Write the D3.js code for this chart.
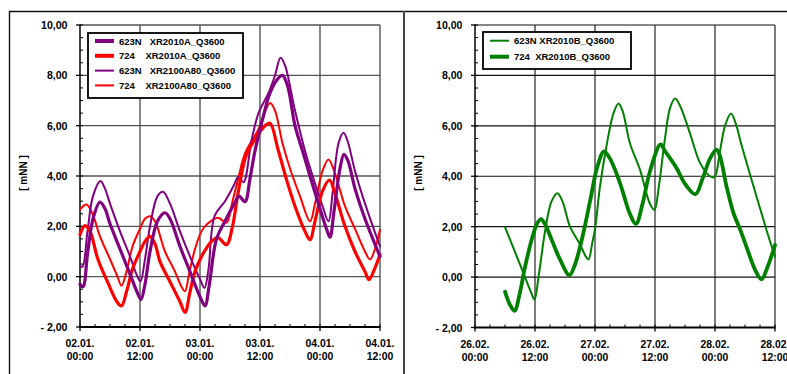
<!DOCTYPE html>
<html>
<head>
<meta charset="utf-8">
<script src="https://cdn.jsdelivr.net/npm/d3@7"></script>
<style>
  html, body { margin: 0; padding: 0; background: #fff; }
  svg { display: block; font-family: Arial, "Liberation Sans", sans-serif; }
  .pre { white-space: pre; }
</style>
</head>
<body>
<svg id="chart" width="787" height="374"></svg>
<script>
// Water levels [mNN], hours after the first tick of each panel
const leftTickLabels = [["02.01.", "00:00"], ["02.01.", "12:00"], ["03.01.", "00:00"], ["03.01.", "12:00"], ["04.01.", "00:00"], ["04.01.", "12:00"]];
const rightTickLabels = [["26.02.", "00:00"], ["26.02.", "12:00"], ["27.02.", "00:00"], ["27.02.", "12:00"], ["28.02.", "00:00"], ["28.02.", "12:00"]];
const tickHours = [0, 12, 24, 36, 48, 60];
const yTickValues = [10, 8, 6, 4, 2, 0, -2];
const yTickLabels = ["10,00", "8,00", "6,00", "4,00", "2,00", "0,00", "- 2,00"];

// 623N XR2010A_Q3600
const s623N_A = [[0, -0.3], [0.6, -0.4], [1.5, 0.9], [2.6, 2.3], [4, 2.96], [5, 2.7], [6, 2.1], [8, 1.1], [10, 0.1], [11.5, -0.65], [12.2, -0.9], [13, -0.3], [14, 1.0], [15.5, 2.2], [17, 2.54], [18, 2.3], [20, 1.2], [22, 0.2], [24, -0.8], [25, -1.16], [25.8, -0.4], [27.3, 1.5], [29, 2.2], [31, 2.95], [31.8, 3.2], [33, 2.98], [34, 3.9], [35, 5.0], [36.7, 6.4], [38, 7.3], [39.5, 7.85], [40.5, 8.0], [41.5, 7.6], [43, 6.0], [44.5, 5.0], [46, 4.0], [48, 2.7], [49.3, 1.9], [50, 1.57], [50.8, 2.6], [52, 4.3], [52.8, 4.86], [53.6, 4.6], [55, 3.5], [57, 2.3], [60, 0.8]];
// 724 XR2010A_Q3600
const s724_A = [[0, 1.67], [1, 2.03], [2, 1.8], [3.6, 0.68], [5.6, -0.25], [7.4, -1.0], [8.3, -1.16], [9.3, -0.6], [10.5, 0.3], [12, 1.0], [13, 1.4], [14, 1.6], [15, 1.3], [16, 0.6], [18, -0.2], [20, -1.0], [21, -1.42], [22, -0.6], [23, 0.2], [24.3, 0.8], [25.2, 1.1], [26.3, 1.4], [27.6, 1.55], [29.3, 1.27], [30.5, 2.0], [31.6, 3.3], [33.2, 4.8], [35, 5.46], [37, 6.0], [38, 6.1], [39.6, 5.06], [41.3, 3.86], [43, 2.8], [45, 1.8], [46, 1.47], [47, 2.2], [48.5, 3.4], [49.9, 3.84], [51, 3.3], [53, 2.0], [55, 1.0], [57, 0.2], [57.8, -0.12], [59, 0.35], [60, 0.88]];
// 623N XR2100A80_Q3600
const s623N_A80 = [[0, 0.41], [0.5, 0.4], [1.5, 1.8], [2.6, 3.2], [4.1, 3.8], [5, 3.5], [6, 2.9], [8, 1.8], [10, 0.8], [11.5, 0.0], [12.1, -0.19], [13, 0.7], [14, 2.0], [15.5, 3.2], [16.6, 3.37], [18, 2.9], [20, 1.8], [22, 0.8], [24, -0.1], [24.9, -0.45], [25.7, 0.3], [26.9, 2.4], [29, 3.0], [30.7, 3.6], [31.7, 3.97], [32.7, 3.75], [34.3, 5.4], [35.7, 6.5], [37.7, 7.3], [39, 8.0], [40.1, 8.7], [41, 8.4], [43, 6.6], [45, 5.0], [47, 3.7], [48.5, 2.8], [49.7, 2.2], [50.5, 3.3], [51.7, 5.3], [52.7, 5.72], [53.5, 5.4], [55, 4.2], [57, 2.9], [60, 1.2]];
// 724 XR2100A80_Q3600
const s724_A80 = [[0, 2.67], [1.3, 2.87], [2.5, 2.5], [4, 1.6], [6, 0.7], [7.5, 0.0], [8.3, -0.36], [9.3, 0.2], [10.5, 1.2], [12, 1.9], [13, 2.3], [14, 2.4], [15, 2.2], [17, 1.0], [19, 0.2], [20.3, -0.4], [21, -0.58], [21.8, 0.1], [23, 1.1], [24.3, 1.8], [25.5, 2.1], [27.6, 2.34], [29.3, 2.14], [30.5, 3.0], [31.6, 3.86], [33, 4.9], [35.7, 5.86], [38, 6.9], [39, 6.6], [40.5, 5.3], [42, 4.3], [44, 3.2], [46, 2.2], [47, 2.9], [48.5, 4.2], [49.7, 4.66], [51, 4.1], [53, 2.8], [55, 1.9], [57, 1.0], [58, 0.68], [59, 1.1], [60, 1.87]];

// 623N XR2010B_Q3600
const s623N_B = [[6, 1.98], [8, 1.0], [10, 0.0], [11.2, -0.6], [11.9, -0.89], [12.7, 0.0], [14, 1.8], [15.3, 3.0], [16.5, 3.33], [17.5, 3.0], [19, 2.0], [21, 1.3], [22.2, 0.8], [22.7, 0.7], [23.5, 1.4], [24, 1.9], [25, 3.6], [26.3, 5.2], [27.7, 6.5], [28.7, 6.89], [29.5, 6.6], [31, 5.3], [33, 4.26], [35, 2.9], [35.9, 2.67], [36.7, 3.5], [38, 5.5], [39, 6.7], [40, 7.08], [41, 6.8], [43, 5.7], [45, 4.53], [47, 4.0], [47.9, 3.97], [49, 5.0], [50, 6.0], [51.2, 6.49], [52.3, 6.0], [53, 5.46], [55.7, 3.6], [58.3, 1.87], [60, 0.81]];
// 724 XR2010B_Q3600
const s724_B = [[6, -0.58], [7, -1.1], [7.9, -1.34], [9, -0.6], [10, 0.4], [11.5, 1.6], [12.5, 2.15], [13.2, 2.3], [14, 2.1], [15.5, 1.4], [17, 0.7], [18.9, 0.08], [20, 0.5], [21.5, 1.6], [23, 3.0], [24.5, 4.4], [25.8, 4.99], [27, 4.7], [29, 3.73], [31, 2.5], [32.2, 2.11], [33.5, 2.9], [35, 4.2], [37.1, 5.26], [38, 5.0], [40.3, 4.33], [42, 3.7], [44.1, 3.29], [45.5, 3.9], [47, 4.7], [48.3, 5.06], [49, 4.8], [50.3, 3.6], [51.7, 2.54], [53, 1.9], [54.3, 1.2], [56, 0.3], [57.3, -0.09], [58.5, 0.4], [60, 1.27]];

const PURPLE = "#800080", RED = "#ff0000", GREEN = "#008000";

const leftSeries = [
  { name: "623N   XR2010A_Q3600", data: s623N_A, color: PURPLE, width: 3.2 },
  { name: "724    XR2010A_Q3600", data: s724_A, color: RED, width: 3.2 },
  { name: "623N   XR2100A80_Q3600", data: s623N_A80, color: PURPLE, width: 2 },
  { name: "724    XR2100A80_Q3600", data: s724_A80, color: RED, width: 2 }
];
const rightSeries = [
  { name: "623N XR2010B_Q3600", data: s623N_B, color: GREEN, width: 2 },
  { name: "724  XR2010B_Q3600", data: s724_B, color: GREEN, width: 3.8 }
];

const svg = d3.select("#chart");

// outer frame and panel divider
svg.append("path").attr("d", "M9.5,374 V11.5 H787").attr("fill", "none").attr("stroke", "#111").attr("stroke-width", 1.4);
svg.append("line").attr("x1", 404).attr("x2", 404).attr("y1", 11).attr("y2", 374).attr("stroke", "#444").attr("stroke-width", 2);

function drawPanel(cfg) {
  const g = svg.append("g");
  const x = d3.scaleLinear().domain([0, 60]).range([cfg.x0, cfg.x1]);
  const y = d3.scaleLinear().domain([-2, 10]).range([cfg.y0, cfg.y1]);

  // grid
  g.append("g").selectAll("line.h").data(yTickValues.filter(v => v > -2)).join("line")
    .attr("x1", cfg.x0).attr("x2", cfg.x1).attr("y1", d => y(d)).attr("y2", d => y(d))
    .attr("stroke", cfg.grid).attr("stroke-width", cfg.gridW);
  g.append("g").selectAll("line.v").data(tickHours.slice(1)).join("line")
    .attr("x1", d => x(d)).attr("x2", d => x(d)).attr("y1", cfg.y1).attr("y2", cfg.y0)
    .attr("stroke", cfg.grid).attr("stroke-width", cfg.gridW);

  // y axis: major ticks outward, minor ticks (0.5) inward
  const yAxis = g.append("g");
  yAxis.append("line").attr("x1", cfg.x0).attr("x2", cfg.x0).attr("y1", cfg.y1 - 0.5).attr("y2", cfg.y0 + 1)
    .attr("stroke", "#000").attr("stroke-width", 1.5);
  yAxis.selectAll("line.minor").data(d3.range(-2, 10.01, 0.5)).join("line")
    .attr("x1", cfg.x0).attr("x2", cfg.x0 + 3).attr("y1", d => y(d)).attr("y2", d => y(d))
    .attr("stroke", "#000").attr("stroke-width", 1);
  yAxis.selectAll("line.major").data(yTickValues).join("line")
    .attr("x1", cfg.x0 - 4).attr("x2", cfg.x0).attr("y1", d => y(d)).attr("y2", d => y(d))
    .attr("stroke", "#000").attr("stroke-width", 1.3);
  yAxis.selectAll("text").data(yTickValues).join("text")
    .attr("class", "pre")
    .attr("x", cfg.x0 - 12.5).attr("y", d => y(d) + 4)
    .attr("text-anchor", "end").attr("font-size", 10.6).attr("font-weight", "bold")
    .text((d, i) => yTickLabels[i]);

  // x axis: major ticks outward, minor ticks (3 h) inward
  const xAxis = g.append("g");
  xAxis.append("line").attr("x1", cfg.x0).attr("x2", cfg.x1 + 0.5).attr("y1", cfg.y0).attr("y2", cfg.y0)
    .attr("stroke", "#000").attr("stroke-width", 1.8);
  xAxis.selectAll("line.minor").data(d3.range(0, 60.01, 3)).join("line")
    .attr("x1", d => x(d)).attr("x2", d => x(d)).attr("y1", cfg.y0 - 3).attr("y2", cfg.y0)
    .attr("stroke", "#000").attr("stroke-width", 1);
  xAxis.selectAll("line.major").data(tickHours).join("line")
    .attr("x1", d => x(d)).attr("x2", d => x(d)).attr("y1", cfg.y0).attr("y2", cfg.y0 + 4)
    .attr("stroke", "#000").attr("stroke-width", 1.3);
  const lbl = xAxis.selectAll("text").data(tickHours).join("text")
    .attr("x", d => x(d)).attr("text-anchor", "middle")
    .attr("font-size", 10.4).attr("font-weight", "bold");
  lbl.append("tspan").attr("x", d => x(d)).attr("y", cfg.y0 + 20).text((d, i) => cfg.labels[i][0]);
  lbl.append("tspan").attr("x", d => x(d)).attr("y", cfg.y0 + 33).text((d, i) => cfg.labels[i][1]);

  // axis title
  g.append("text").attr("class", "pre")
    .attr("transform", `translate(${cfg.titleX},173) rotate(-90)`)
    .attr("text-anchor", "middle").attr("font-size", 10).attr("font-weight", "bold")
    .text("[ mNN ]");

  // series, smoothed
  const line = d3.line().x(d => x(d[0])).y(d => y(d[1])).curve(d3.curveCatmullRom.alpha(0.5));
  const drawOrder = cfg.series.slice().reverse();
  g.append("g").selectAll("path").data(drawOrder).join("path")
    .attr("d", d => line(d.data))
    .attr("fill", "none").attr("stroke", d => d.color).attr("stroke-width", d => d.width)
    .attr("stroke-linejoin", "round").attr("stroke-linecap", "round");

  // legend
  const lg = g.append("g");
  const L = cfg.legend;
  lg.append("rect").attr("x", L.x).attr("y", L.y).attr("width", L.w).attr("height", L.h)
    .attr("fill", "#fff").attr("stroke", "#000").attr("stroke-width", 1.8);
  const item = lg.selectAll("g").data(cfg.series).join("g")
    .attr("transform", (d, i) => `translate(0,${L.y + L.first + i * L.step})`);
  item.append("line").attr("x1", L.x + 7).attr("x2", L.x + 26).attr("y1", 0).attr("y2", 0)
    .attr("stroke", d => d.color).attr("stroke-width", d => d.width >= 3 ? 4 : 2);
  item.append("text").attr("class", "pre").attr("x", L.x + 31).attr("y", 3.5)
    .attr("font-size", 9.5).attr("font-weight", "bold").text(d => d.name);
}

drawPanel({
  x0: 80, x1: 380, y0: 327, y1: 25, grid: "#555", gridW: 1.4, labels: leftTickLabels, titleX: 27,
  series: leftSeries, legend: { x: 88, y: 33, w: 155, h: 65, first: 8, step: 14.8 }
});
drawPanel({
  x0: 475, x1: 775, y0: 327.5, y1: 25, grid: "#111", gridW: 1.1, labels: rightTickLabels, titleX: 422,
  series: rightSeries, legend: { x: 483, y: 32, w: 148, h: 37, first: 8.7, step: 16 }
});
</script>
</body>
</html>
